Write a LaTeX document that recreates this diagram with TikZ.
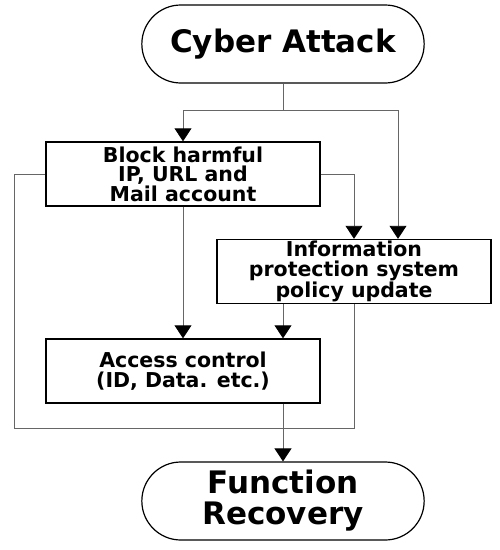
\documentclass[tikz,border=0pt]{standalone}
\usepackage{fontspec}
\setmainfont{DejaVu Sans}
\usetikzlibrary{arrows.meta, shapes.misc}

\begin{document}
\begin{tikzpicture}[x=1pt, y=-1pt,
  term/.style={draw, line width=1.2pt, rounded rectangle, minimum width=289pt, minimum height=78pt, align=center, font=\bfseries\fontsize{31}{31}\selectfont},
  stepbox/.style={draw, line width=1.4pt, minimum width=274pt, minimum height=64pt, inner sep=0pt, align=center, font=\bfseries\fontsize{20.5}{19.5}\selectfont},
  link/.style={draw=black!60, line width=0.9pt},
  flow/.style={link, -{Triangle[width=17pt, length=13pt, color=black]}}]
\useasboundingbox (0,0) rectangle (500,550);

% Start and end
\node[term] (attack) at (283,44) {Cyber Attack};
\node[term] (recover) at (283,501) {Function\\Recovery};

% Steps
\node[stepbox] (block) at (183,174) {Block harmful\\IP, URL and\\Mail account};
\node[stepbox] (info) at (354,271.5) {Information\\protection system\\policy update};
\node[stepbox] (access) at (183,371) {Access control\\(ID, Data. etc.)};

% Flow
\coordinate (split) at (283,110);
\coordinate (loopcorner) at (14,428);
\draw[link] (attack.south) -- (split);
\draw[flow] (split) -| (block.north);
\draw[flow] (split) -| ([xshift=44pt]info.north);
\draw[flow] (block.east) -| (info.north);
\draw[flow] (block.south) -- (access.north);
\draw[flow] (info.south -| attack.south) -- (access.north -| attack.south);
\draw[flow] (access.south -| recover.north) -- (recover.north);
\draw[link] (block.west) -| (loopcorner) -| (info.south);
\end{tikzpicture}
\end{document}
